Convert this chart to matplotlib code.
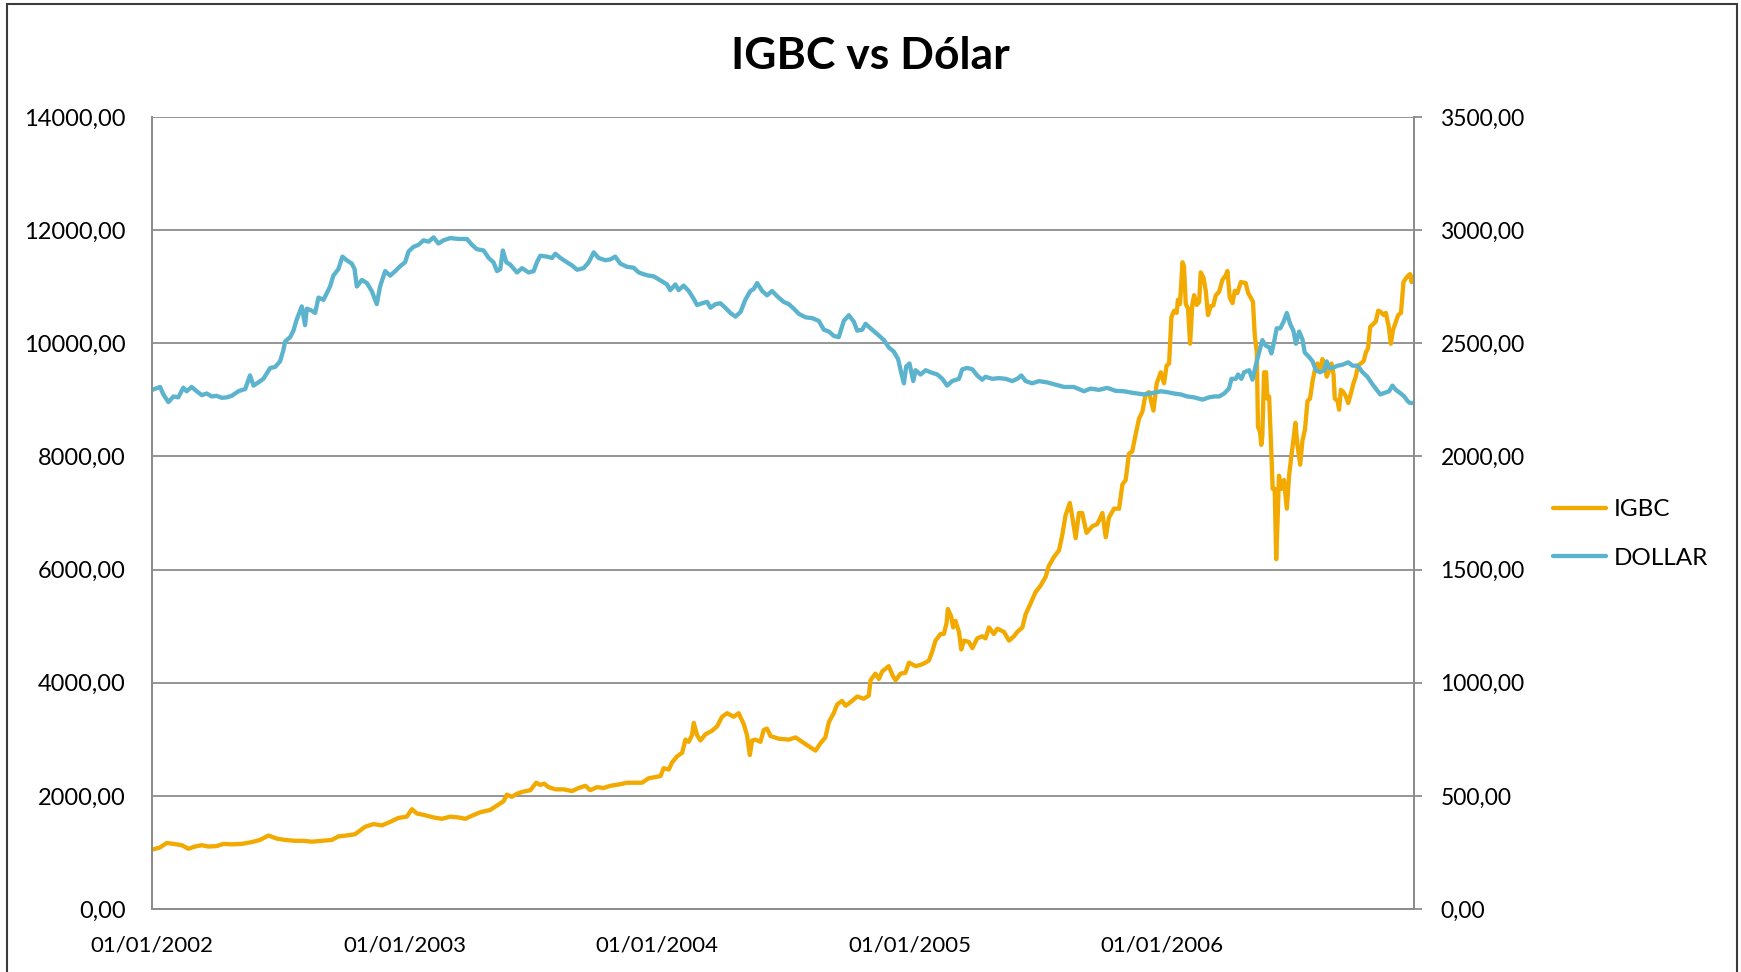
import numpy as np
import pandas as pd
import matplotlib
matplotlib.use('Agg')
import matplotlib.pyplot as plt
import matplotlib.dates as mdates
from matplotlib.patches import Rectangle
from matplotlib.ticker import FuncFormatter, MultipleLocator

# values (decimal years, index level)
igbc_year = [
    2002.001, 2002.032, 2002.058, 2002.085, 2002.118, 2002.144, 2002.170, 2002.197, 2002.223, 2002.256,
    2002.283, 2002.316, 2002.355, 2002.395, 2002.428, 2002.461, 2002.494, 2002.527, 2002.567, 2002.600,
    2002.633, 2002.672, 2002.712, 2002.738, 2002.771, 2002.804, 2002.844, 2002.877, 2002.910, 2002.943,
    2002.976, 2003.009, 2003.029, 2003.049, 2003.082, 2003.115, 2003.148, 2003.181, 2003.214, 2003.240,
    2003.267, 2003.300, 2003.339, 2003.366, 2003.392, 2003.405, 2003.425, 2003.445, 2003.471, 2003.498,
    2003.521, 2003.537, 2003.553, 2003.570, 2003.597, 2003.630, 2003.663, 2003.689, 2003.716, 2003.735,
    2003.762, 2003.788, 2003.815, 2003.848, 2003.881, 2003.914, 2003.940, 2003.966, 2003.993, 2004.013,
    2004.026, 2004.046, 2004.059, 2004.079, 2004.099, 2004.112, 2004.125, 2004.138, 2004.145, 2004.158,
    2004.171, 2004.191, 2004.217, 2004.237, 2004.257, 2004.277, 2004.303, 2004.323, 2004.343, 2004.356,
    2004.367, 2004.376, 2004.389, 2004.409, 2004.422, 2004.435, 2004.449, 2004.482, 2004.521, 2004.548,
    2004.574, 2004.600, 2004.627, 2004.647, 2004.666, 2004.680, 2004.699, 2004.713, 2004.732, 2004.746,
    2004.765, 2004.792, 2004.818, 2004.838, 2004.845, 2004.864, 2004.878, 2004.891, 2004.917, 2004.933,
    2004.944, 2004.964, 2004.983, 2004.997, 2005.023, 2005.043, 2005.063, 2005.076, 2005.089, 2005.102,
    2005.122, 2005.135, 2005.146, 2005.151, 2005.164, 2005.172, 2005.181, 2005.195, 2005.204, 2005.215,
    2005.234, 2005.248, 2005.267, 2005.287, 2005.300, 2005.314, 2005.333, 2005.347, 2005.373, 2005.393,
    2005.413, 2005.426, 2005.446, 2005.459, 2005.479, 2005.498, 2005.518, 2005.538, 2005.551, 2005.571,
    2005.591, 2005.604, 2005.617, 2005.634, 2005.644, 2005.657, 2005.670, 2005.683, 2005.700, 2005.723,
    2005.743, 2005.763, 2005.776, 2005.789, 2005.809, 2005.829, 2005.842, 2005.855, 2005.868, 2005.881,
    2005.895, 2005.908, 2005.921, 2005.934, 2005.947, 2005.965, 2005.978, 2005.994, 2006.007, 2006.017,
    2006.027, 2006.036, 2006.047, 2006.057, 2006.062, 2006.070, 2006.080, 2006.086, 2006.093, 2006.102,
    2006.110, 2006.119, 2006.126, 2006.136, 2006.146, 2006.152, 2006.163, 2006.172, 2006.181, 2006.192,
    2006.202, 2006.212, 2006.225, 2006.238, 2006.251, 2006.258, 2006.267, 2006.278, 2006.287, 2006.297,
    2006.311, 2006.330, 2006.340, 2006.350, 2006.359, 2006.366, 2006.374, 2006.379, 2006.387, 2006.392,
    2006.396, 2006.403, 2006.411, 2006.416, 2006.423, 2006.432, 2006.437, 2006.445, 2006.451, 2006.456,
    2006.462, 2006.472, 2006.482, 2006.493, 2006.502, 2006.511, 2006.519, 2006.527, 2006.535, 2006.546,
    2006.555, 2006.565, 2006.575, 2006.585, 2006.595, 2006.604, 2006.614, 2006.625, 2006.634, 2006.643,
    2006.651, 2006.661, 2006.670, 2006.678, 2006.683, 2006.694, 2006.700, 2006.707, 2006.717, 2006.727,
    2006.736, 2006.746, 2006.757, 2006.766, 2006.775, 2006.786, 2006.797, 2006.806, 2006.815, 2006.823,
    2006.836, 2006.845, 2006.855, 2006.865, 2006.876, 2006.885, 2006.896, 2006.905, 2006.913, 2006.925,
    2006.934, 2006.945, 2006.955, 2006.964, 2006.974, 2006.981, 2006.987, 2006.995,
]
igbc_value = [
    1050, 1089, 1167, 1151, 1128, 1065, 1104, 1128, 1104, 1112,
    1151, 1143, 1151, 1182, 1221, 1299, 1244, 1221, 1205, 1205,
    1190, 1205, 1221, 1283, 1299, 1322, 1454, 1501, 1478, 1540,
    1610, 1633, 1765, 1688, 1657, 1618, 1594, 1633, 1618, 1594,
    1649, 1711, 1750, 1828, 1905, 2022, 1983, 2038, 2076, 2100,
    2232, 2193, 2216, 2154, 2115, 2115, 2084, 2139, 2178, 2100,
    2154, 2139, 2178, 2201, 2232, 2232, 2232, 2310, 2333, 2349,
    2489, 2465, 2590, 2699, 2761, 2994, 2955, 3072, 3290, 3072,
    2979, 3087, 3150, 3227, 3398, 3461, 3398, 3461, 3266, 3072,
    2722, 2979, 2994, 2955, 3165, 3189, 3056, 3010, 2994, 3033,
    2955, 2877, 2800, 2932, 3033, 3305, 3461, 3616, 3679, 3593,
    3655, 3756, 3717, 3772, 4044, 4161, 4067, 4200, 4293, 4122,
    4044, 4161, 4176, 4355, 4293, 4316, 4355, 4394, 4549, 4744,
    4861, 4861, 5055, 5304, 5172, 4977, 5094, 4899, 4588, 4744,
    4721, 4612, 4783, 4822, 4783, 4977, 4861, 4955, 4899, 4744,
    4822, 4899, 4977, 5211, 5405, 5599, 5716, 5871, 6066, 6222,
    6338, 6610, 6960, 7178, 6921, 6556, 7000, 7000, 6649, 6766,
    6805, 7000, 6571, 6921, 7077, 7077, 7505, 7583, 8049, 8088,
    8399, 8671, 8788, 9099, 9138, 8811, 9294, 9488, 9294, 9605,
    9643, 10460, 10577, 10538, 10771, 10693, 11432, 11355, 10693, 10616,
    9993, 10693, 10849, 10678, 10732, 11254, 11160, 10927, 10499, 10655,
    10670, 10849, 10911, 11121, 11199, 11277, 10810, 10709, 10927, 10888,
    11082, 11066, 10888, 10810, 10732, 10149, 9838, 8516, 8438, 8205,
    8360, 9488, 9488, 9021, 9060, 8049, 7427, 7427, 6183, 6805,
    7660, 7427, 7583, 7077, 7660, 8010, 8283, 8594, 8205, 7855,
    8283, 8477, 8982, 9021, 9332, 9527, 9643, 9527, 9721, 9605,
    9410, 9527, 9643, 9449, 9021, 8982, 8827, 9177, 9138, 9060,
    8943, 9099, 9294, 9410, 9605, 9643, 9682, 9838, 9915, 10289,
    10344, 10382, 10577, 10553, 10499, 10538, 10305, 9993, 10227, 10382,
    10499, 10538, 11082, 11144, 11199, 11222, 11082, 11182,
]

dollar_year = [
    2002.001, 2002.032, 2002.045, 2002.065, 2002.085, 2002.104, 2002.124, 2002.137, 2002.157, 2002.177,
    2002.197, 2002.217, 2002.236, 2002.256, 2002.276, 2002.296, 2002.316, 2002.342, 2002.369, 2002.388,
    2002.402, 2002.421, 2002.441, 2002.468, 2002.487, 2002.507, 2002.520, 2002.527, 2002.547, 2002.560,
    2002.573, 2002.593, 2002.606, 2002.613, 2002.633, 2002.646, 2002.659, 2002.679, 2002.692, 2002.705,
    2002.718, 2002.738, 2002.754, 2002.771, 2002.791, 2002.802, 2002.811, 2002.831, 2002.851, 2002.870,
    2002.890, 2002.903, 2002.923, 2002.943, 2002.963, 2002.983, 2003.002, 2003.016, 2003.035, 2003.055,
    2003.075, 2003.095, 2003.115, 2003.134, 2003.154, 2003.181, 2003.214, 2003.247, 2003.267, 2003.286,
    2003.313, 2003.333, 2003.352, 2003.366, 2003.379, 2003.389, 2003.403, 2003.418, 2003.445, 2003.465,
    2003.491, 2003.511, 2003.524, 2003.537, 2003.564, 2003.584, 2003.597, 2003.617, 2003.643, 2003.663,
    2003.683, 2003.709, 2003.729, 2003.749, 2003.768, 2003.795, 2003.815, 2003.834, 2003.854, 2003.881,
    2003.907, 2003.927, 2003.947, 2003.966, 2003.986, 2004.019, 2004.039, 2004.052, 2004.072, 2004.085,
    2004.105, 2004.125, 2004.145, 2004.158, 2004.178, 2004.198, 2004.211, 2004.231, 2004.250, 2004.270,
    2004.290, 2004.310, 2004.330, 2004.349, 2004.369, 2004.383, 2004.396, 2004.416, 2004.435, 2004.455,
    2004.475, 2004.501, 2004.521, 2004.541, 2004.561, 2004.587, 2004.614, 2004.640, 2004.660, 2004.680,
    2004.699, 2004.719, 2004.739, 2004.759, 2004.779, 2004.792, 2004.812, 2004.825, 2004.845, 2004.871,
    2004.898, 2004.917, 2004.937, 2004.954, 2004.968, 2004.977, 2004.986, 2004.999, 2005.014, 2005.023,
    2005.043, 2005.063, 2005.082, 2005.109, 2005.129, 2005.148, 2005.168, 2005.195, 2005.208, 2005.228,
    2005.248, 2005.267, 2005.287, 2005.300, 2005.327, 2005.353, 2005.380, 2005.406, 2005.426, 2005.442,
    2005.459, 2005.485, 2005.512, 2005.545, 2005.571, 2005.611, 2005.650, 2005.690, 2005.716, 2005.749,
    2005.782, 2005.815, 2005.848, 2005.888, 2005.928, 2005.961, 2005.994, 2006.020, 2006.047, 2006.073,
    2006.099, 2006.126, 2006.159, 2006.185, 2006.205, 2006.225, 2006.245, 2006.264, 2006.274, 2006.291,
    2006.300, 2006.313, 2006.324, 2006.344, 2006.357, 2006.370, 2006.383, 2006.396, 2006.410, 2006.423,
    2006.432, 2006.443, 2006.453, 2006.467, 2006.480, 2006.493, 2006.506, 2006.519, 2006.529, 2006.542,
    2006.555, 2006.564, 2006.581, 2006.595, 2006.608, 2006.625, 2006.641, 2006.651, 2006.661, 2006.674,
    2006.694, 2006.713, 2006.736, 2006.753, 2006.773, 2006.793, 2006.812, 2006.832, 2006.849, 2006.863,
    2006.878, 2006.898, 2006.911, 2006.925, 2006.942, 2006.958, 2006.971, 2006.981, 2006.997,
]
dollar_value = [
    2294, 2307, 2274, 2240, 2265, 2261, 2304, 2288, 2307, 2288,
    2271, 2278, 2265, 2268, 2259, 2261, 2268, 2288, 2298, 2358,
    2313, 2327, 2343, 2391, 2395, 2420, 2469, 2508, 2527, 2556,
    2605, 2663, 2580, 2653, 2644, 2634, 2702, 2692, 2722, 2751,
    2799, 2828, 2883, 2867, 2852, 2828, 2751, 2780, 2766, 2731,
    2673, 2751, 2819, 2799, 2819, 2841, 2858, 2906, 2926, 2935,
    2955, 2949, 2968, 2941, 2955, 2965, 2961, 2961, 2935, 2916,
    2910, 2877, 2858, 2819, 2828, 2910, 2858, 2848, 2813, 2832,
    2813, 2819, 2858, 2887, 2883, 2877, 2896, 2877, 2858, 2844,
    2825, 2832, 2858, 2902, 2877, 2867, 2871, 2883, 2852, 2838,
    2834, 2813, 2805, 2799, 2796, 2774, 2760, 2735, 2760, 2735,
    2755, 2731, 2696, 2669, 2677, 2683, 2657, 2673, 2677, 2657,
    2634, 2618, 2638, 2692, 2731, 2741, 2766, 2731, 2712, 2731,
    2708, 2683, 2673, 2653, 2630, 2615, 2611, 2599, 2560, 2552,
    2533, 2527, 2599, 2624, 2595, 2556, 2560, 2586, 2566, 2541,
    2514, 2482, 2463, 2430, 2362, 2323, 2397, 2411, 2333, 2381,
    2362, 2381, 2372, 2362, 2343, 2313, 2333, 2343, 2385, 2391,
    2385, 2358, 2339, 2352, 2343, 2346, 2343, 2333, 2343, 2358,
    2333, 2323, 2333, 2327, 2319, 2307, 2307, 2288, 2300, 2294,
    2303, 2290, 2288, 2280, 2274, 2280, 2288, 2284, 2278, 2274,
    2265, 2261, 2251, 2261, 2265, 2265, 2278, 2300, 2343, 2343,
    2362, 2343, 2372, 2381, 2339, 2401, 2459, 2514, 2489, 2483,
    2455, 2508, 2566, 2566, 2595, 2634, 2586, 2556, 2498, 2552,
    2517, 2459, 2440, 2420, 2381, 2372, 2381, 2420, 2391, 2391,
    2401, 2405, 2416, 2401, 2401, 2372, 2352, 2319, 2294, 2274,
    2280, 2288, 2313, 2294, 2280, 2265, 2245, 2236, 2236,
]

year_ticks = [2002, 2003, 2004, 2005, 2006]
title = 'IGBC vs Dólar'
igbc_label = 'IGBC'
dollar_label = 'DOLLAR'

IGBC_COLOR = '#F2AA00'
DOLLAR_COLOR = '#5BB3CD'
GRID_COLOR = '#8C8C8C'


def to_dates(years):
    years = np.asarray(years, dtype=float)
    return pd.Timestamp('2002-01-01') + pd.to_timedelta((years - 2002) * 365.25, unit='D')


def comma_fmt(v, pos):
    return f'{v:.2f}'.replace('.', ',')


plt.rcParams['font.family'] = ['Lato', 'DejaVu Sans']

fig = plt.figure(figsize=(17.41, 9.72), dpi=100)
ax = fig.add_axes([152 / 1741, 1 - 909 / 972, (1414 - 152) / 1741, (909 - 117) / 972])
ax2 = ax.twinx()

ax.plot(to_dates(igbc_year), igbc_value, color=IGBC_COLOR, lw=3.1,
        solid_joinstyle='round', solid_capstyle='round', label=igbc_label)
ax2.plot(to_dates(dollar_year), dollar_value, color=DOLLAR_COLOR, lw=3.1,
         solid_joinstyle='round', solid_capstyle='round', label=dollar_label)

ax.set_ylim(0, 14000)
ax2.set_ylim(0, 3500)
ax.yaxis.set_major_locator(MultipleLocator(2000))
ax2.yaxis.set_major_locator(MultipleLocator(500))
ax.yaxis.set_major_formatter(FuncFormatter(comma_fmt))
ax2.yaxis.set_major_formatter(FuncFormatter(comma_fmt))

ax.set_xlim(pd.Timestamp('2002-01-01'), pd.Timestamp('2006-12-31'))
ax.set_xticks([pd.Timestamp(f'{y}-01-01') for y in year_ticks])
ax.xaxis.set_major_formatter(mdates.DateFormatter('%d/%m/%Y'))

ax.grid(axis='y', color=GRID_COLOR, lw=1.3)
ax.set_axisbelow(True)

for a in (ax, ax2):
    for side in a.spines:
        a.spines[side].set_color(GRID_COLOR)
        a.spines[side].set_linewidth(1.3)
    a.spines['top'].set_visible(False)

ax.tick_params(axis='y', length=0, pad=19, labelsize=17)
ax.tick_params(axis='x', length=0, pad=19, labelsize=16)
ax2.tick_params(axis='y', length=6, width=1.3, color=GRID_COLOR, direction='out', pad=13, labelsize=16.5)

fig.text(0.5, 1 - 56 / 972, title, ha='center', va='center', fontsize=32, fontweight='bold')

h1, l1 = ax.get_legend_handles_labels()
h2, l2 = ax2.get_legend_handles_labels()
fig.legend(h1 + h2, l1 + l2, loc='center left', bbox_to_anchor=(1553 / 1741, 1 - 534 / 972),
           frameon=False, fontsize=17.5, handlelength=2.2, handletextpad=0.3,
           labelspacing=1.15, borderpad=0, borderaxespad=0)

fig.patches.append(Rectangle((7 / 1741, -0.05), (1737 - 7) / 1741, 1.05 - 4 / 972,
                             transform=fig.transFigure, fill=False, edgecolor='#3C3C3C', lw=1.5))

fig.savefig('out.png', dpi=100)
